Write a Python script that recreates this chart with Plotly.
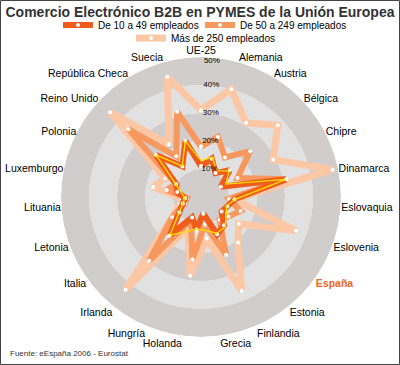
import plotly.graph_objects as go

categories = ["UE-25", "Alemania", "Austria", "Bélgica", "Chipre", "Dinamarca", "Eslovaquia",
              "Eslovenia", "España", "Estonia", "Finlandia", "Grecia", "Holanda", "Hungría",
              "Irlanda", "Italia", "Letonia", "Lituania", "Luxemburgo", "Polonia",
              "Reino Unido", "República Checa", "Suecia"]

mas_250 = [31, 40, 31, 37.5, 29, 48, 12, 36, 16.5, 21, 36.5, 15, 28.4, 12, 42.7, 12.6, 8, 7,
           17.4, 14.4, 44.4, 22, 44.6]
de_50_249 = [18, 22.3, 16.5, 24, 14.7, 31, 10, 15, 12, 10.5, 22.5, 10, 22.4, 9, 29.3, 12.6, 6, 5,
             12.5, 10, 35.5, 17, 31.6]
de_10_49 = [11, 14.2, 10, 14, 8, 31, 12, 10, 9, 13, 14.5, 6, 11.7, 8, 17.7, 9.5, 6.9, 5.7,
            8.7, 10, 22, 12.8, 20.8]
linea_amarilla = [13, 14.7, 11, 13.7, 10, 31, 12.2, 9.7, 11, 13.7, 14.1, 12, 11.6, 13.5, 17.6,
                  9.5, 6.9, 5.7, 7.1, 10.2, 22, 12.9, 20.8]

radial_ticks = [10, 20, 30, 40, 50]
radial_labels = ["10%", "20%", "30%", "40%", "50%"]
band_base = [0, 10, 20, 30, 40]

n = len(categories)
theta = [i * 360.0 / n for i in range(n)]
theta_closed = theta + [360.0]

def closed(v):
    return list(v) + [v[0]]

ticktext = []
for c in categories:
    if c == "España":
        ticktext.append("<b><span style='color:#f26522'>España</span></b>")
    else:
        ticktext.append(c)

W, H = 400, 365
L, R, T, B = 61, 59, 57, 28
pw, ph = W - L - R, H - T - B

def px(x):
    return (x - L) / pw

def py(y):
    return (H - B - y) / ph

fig = go.Figure()

band_colors = ["#d0cdcc", "#e2e1e1", "#d0cdcc", "#e2e1e1", "#d0cdcc"]
fig.add_trace(go.Barpolar(
    r=[10] * len(band_base), base=band_base, theta=[0] * len(band_base),
    width=[360] * len(band_base), marker=dict(color=band_colors, line=dict(width=0)),
    showlegend=False, hoverinfo="skip"))

series = [
    ("Más de 250 empleados", mas_250, "#fbc7a4", 7, "legend3"),
    ("De 50 a 249 empleados", de_50_249, "#f7995f", 6, "legend2"),
    ("De 10 a 49 empleados", de_10_49, "#ef5c1c", 6, "legend"),
]
for name, vals, col, w, lg in series:
    fig.add_trace(go.Scatterpolar(
        r=closed(vals), theta=theta_closed, mode="lines+markers", name=name,
        line=dict(color=col, width=w), marker=dict(color="white", size=4),
        legend=lg))

fig.add_trace(go.Scatterpolar(
    r=closed(linea_amarilla), theta=theta_closed, mode="lines",
    line=dict(color="#ffe000", width=1.3), showlegend=False))

fig.add_trace(go.Scatterpolar(
    r=radial_ticks, theta=[1.2] * len(radial_ticks), mode="text", text=radial_labels,
    textposition=["middle right"] * 4 + ["bottom right"],
    textfont=dict(size=8, color="#000"),
    showlegend=False, hoverinfo="skip"))

leg_common = dict(orientation="h", yanchor="middle", xanchor="left",
                  font=dict(size=10, color="#000"), bgcolor="rgba(0,0,0,0)",
                  borderwidth=0, itemwidth=30)

fig.update_layout(
    width=W, height=H, margin=dict(l=L, r=R, t=T, b=B, autoexpand=False),
    paper_bgcolor="white", plot_bgcolor="white",
    font=dict(family="Liberation Sans, Arial, sans-serif", color="#000"),
    title=dict(text="<b>Comercio Electrónico B2B en PYMES de la Unión Europea</b>",
               x=0.5, xref="container", xanchor="center", y=1 - 12 / H, yanchor="middle",
               font=dict(size=14, color="#333333")),
    polar=dict(
        bgcolor="rgba(0,0,0,0)",
        domain=dict(x=[0, 1], y=[0, 1]),
        radialaxis=dict(range=[0, 50], tickvals=radial_ticks, showticklabels=False,
                        showgrid=False, showline=False, ticks="", angle=90,
                        layer="above traces"),
        angularaxis=dict(type="linear", thetaunit="degrees", rotation=90,
                         direction="clockwise", tickvals=theta, ticktext=ticktext,
                         showgrid=True, gridcolor="white", gridwidth=1,
                         showline=False, ticks="", layer="above traces",
                         tickfont=dict(size=10.5, color="#000")),
        barmode="overlay",
    ),
    legend=dict(x=px(58), y=py(25), **leg_common),
    legend2=dict(x=px(200), y=py(25), **leg_common),
    legend3=dict(x=px(131), y=py(38), **leg_common),
    shapes=[dict(type="rect", xref="paper", yref="paper",
                 x0=px(0.5), x1=px(399.5), y0=py(364.5), y1=py(0.5),
                 line=dict(color="#444444", width=1))],
    annotations=[dict(text="Fuente: eEspaña 2006 - Eurostat", xref="paper", yref="paper",
                      x=px(8), y=py(353), xanchor="left", yanchor="middle", showarrow=False,
                      font=dict(size=8, color="#333333"))],
)

fig.write_html("out.html", config={"displayModeBar": False},
               post_script="document.body.style.margin='0';")
